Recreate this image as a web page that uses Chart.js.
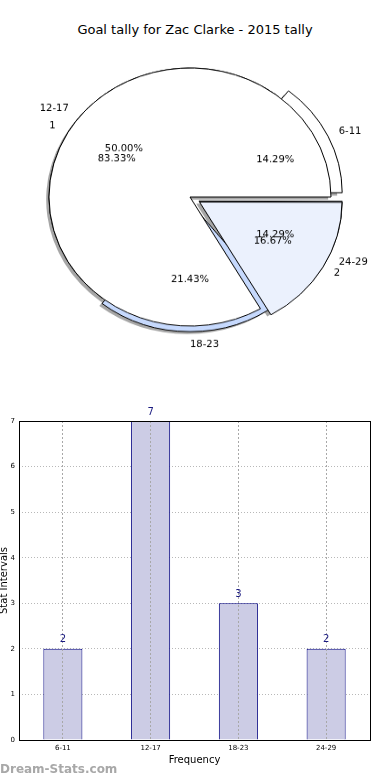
<!DOCTYPE html>
<html><head><meta charset="utf-8">
<script src="https://cdn.jsdelivr.net/npm/chart.js@4.4.0/dist/chart.umd.min.js"></script>
<style>
html,body{margin:0;padding:0;background:#fff;}
#root{position:relative;width:390px;height:780px;overflow:hidden;font-family:"DejaVu Sans",sans-serif;}
#title{position:absolute;top:22px;left:0;width:390px;text-align:center;font-size:13px;line-height:16px;color:#000;}
#pies{position:absolute;left:0;top:17px;width:390px;height:360px;transform:scale(1,0.915);transform-origin:190px 180px;}
#pies canvas{position:absolute;left:0;top:0;}
#bar{position:absolute;left:0;top:380px;}
#wm{position:absolute;left:0;top:762px;font-size:12px;line-height:15px;font-weight:bold;color:#a8a8a8;}
</style></head>
<body><div id="root">
<div id="title">Goal tally for Zac Clarke - 2015 tally</div>
<div id="pies">
<canvas id="pie1" width="390" height="360" style="width:390px;height:360px"></canvas>
<canvas id="pie2" width="390" height="360" style="width:390px;height:360px"></canvas>
</div>
<canvas id="bar" width="390" height="400" style="width:390px;height:400px"></canvas>
<div id="wm">Dream-Stats.com</div>
</div>
<script>
// ---- data ----
const categories = ['6-11', '12-17', '18-23', '24-29'];
const tally = [2, 7, 3, 2];
const pieExplode = [40, 0, 24, 40];
const pieColors = ['#ffffff', '#ffffff', '#c6d9fd', '#dce7fc'];
const pie2Labels = ['1', '2'];
const pie2Values = [5, 1];
const pie2Explode = [0, 44];
const pie2Colors = ['#ffffff', '#ebf1fd'];
const yMin = 0, yMax = 7, yStep = 1;

const FONT = '"DejaVu Sans", sans-serif';
const SY = 0.915;

function geom(arc) {
  const p = arc.getProps(['x', 'y', 'startAngle', 'endAngle', 'outerRadius'], true);
  const m = (p.startAngle + p.endAngle) / 2;
  const off = (arc.options.offset || 0) / 4;
  return {cx: p.x + Math.cos(m) * off, cy: p.y + Math.sin(m) * off, s: p.startAngle, e: p.endAngle, m: m, r: p.outerRadius};
}
function drawText(ctx, s, x, y, align) {
  ctx.save();
  ctx.translate(x, y);
  ctx.scale(1, 1 / SY);
  ctx.textAlign = align;
  ctx.textBaseline = 'middle';
  ctx.fillText(s, 0, 0);
  ctx.restore();
}
function drawLabels(chart, ctx) {
  const meta = chart.getDatasetMeta(0);
  const ds = chart.data.datasets[0];
  const total = ds.data.reduce((a, b) => a + b, 0);
  ctx.save();
  ctx.fillStyle = '#000';
  ctx.font = '10px ' + FONT;
  meta.data.forEach((arc, i) => {
    const g = geom(arc);
    const c = Math.cos(g.m), s = Math.sin(g.m);
    drawText(ctx, chart.data.labels[i], g.cx + c * g.r * 1.1, g.cy + s * g.r * 1.1, c > -1e-6 ? 'left' : 'right');
    drawText(ctx, (ds.data[i] / total * 100).toFixed(2) + '%', g.cx + c * g.r * 0.6, g.cy + s * g.r * 0.6, 'center');
  });
  ctx.restore();
}
function addShadowPath(chart, ctx) {
  chart.getDatasetMeta(0).data.forEach(arc => {
    const g = geom(arc);
    const cx = g.cx - 2.8, cy = g.cy + 2.8;
    ctx.moveTo(cx, cy);
    ctx.arc(cx, cy, g.r, g.s, g.e);
    ctx.closePath();
  });
}
const charts = {};
const pieDecor = {
  id: 'pieDecor',
  beforeDatasetsDraw(chart) {
    // all shadows (both pies) lie beneath every wedge: draw them on the bottom layer
    if (chart.canvas.id !== 'pie1') return;
    const ctx = chart.ctx;
    ctx.save();
    ctx.fillStyle = 'rgba(77,77,77,0.5)';
    ctx.beginPath();
    addShadowPath(chart, ctx);
    if (charts.pie2) addShadowPath(charts.pie2, ctx);
    ctx.fill();
    ctx.restore();
  },
  afterDatasetsDraw(chart) {
    if (chart.canvas.id !== 'pie2') return;
    if (charts.pie1) drawLabels(charts.pie1, chart.ctx);
    drawLabels(chart, chart.ctx);
  }
};
function pieConfig(labels, values, colors, explode) {
  return {
    type: 'pie',
    data: {labels: labels, datasets: [{
      data: values, backgroundColor: colors, borderColor: '#000', borderWidth: 1,
      offset: explode, hoverOffset: 0, rotation: 90, radius: 141
    }]},
    options: {
      responsive: false, animation: false, events: [],
      rotation: 90,
      layout: {padding: {left: 15, right: 25, top: 10, bottom: 10}},
      plugins: {legend: {display: false}, tooltip: {enabled: false}}
    },
    plugins: [pieDecor]
  };
}
const rev = a => a.slice().reverse();
charts.pie2 = new Chart(document.getElementById('pie2'),
  pieConfig(rev(pie2Labels), rev(pie2Values), rev(pie2Colors), rev(pie2Explode)));
charts.pie1 = new Chart(document.getElementById('pie1'),
  pieConfig(rev(categories), rev(tally), rev(pieColors), rev(pieExplode)));
charts.pie2.update('none');

// ---- bar chart ----
const barExtras = {
  id: 'barExtras',
  afterDraw(chart) {
    const ctx = chart.ctx, a = chart.chartArea;
    ctx.save();
    ctx.strokeStyle = '#000';
    ctx.lineWidth = 1;
    ctx.strokeRect(Math.round(a.left) + 0.5, Math.round(a.top) + 0.5, Math.round(a.right - a.left), Math.round(a.bottom - a.top));
    ctx.fillStyle = '#1a1a80';
    ctx.font = '10px ' + FONT;
    ctx.textAlign = 'center';
    ctx.textBaseline = 'middle';
    const meta = chart.getDatasetMeta(0);
    meta.data.forEach((bar, i) => {
      ctx.fillText(String(chart.data.datasets[0].data[i]), bar.x, bar.y - 9);
    });
    ctx.restore();
  }
};
new Chart(document.getElementById('bar'), {
  type: 'bar',
  data: {labels: categories, datasets: [{
    data: tally, backgroundColor: '#ccccE5', borderColor: '#000080', borderWidth: 1,
    barPercentage: 0.445, categoryPercentage: 1
  }]},
  options: {
    responsive: false, animation: false, events: [],
    layout: {padding: {top: 41, right: 20, left: 0, bottom: 0}},
    plugins: {legend: {display: false}, tooltip: {enabled: false}},
    scales: {
      x: {
        grid: {display: true, color: '#a8a8a8', drawTicks: false, z: 1, offset: false},
        border: {display: false, dash: [2, 2]},
        ticks: {font: {size: 7, family: FONT}, color: '#000', padding: 4},
        title: {display: true, text: 'Frequency', font: {size: 10, family: FONT}, color: '#000', padding: {top: 0, bottom: 14}},
        afterFit(s) { s.height = 40; }
      },
      y: {
        min: yMin, max: yMax,
        ticks: {stepSize: yStep, font: {size: 7, family: FONT}, color: '#000', padding: 4},
        grid: {color: '#b8b8b8', drawTicks: false},
        border: {display: false, dash: [1, 2]},
        title: {display: true, text: 'Stat Intervals', font: {size: 10, family: FONT}, color: '#000', padding: {top: -2, bottom: 0}},
        afterFit(s) { s.width = 19; }
      }
    }
  },
  plugins: [barExtras]
});
</script>
</body></html>
